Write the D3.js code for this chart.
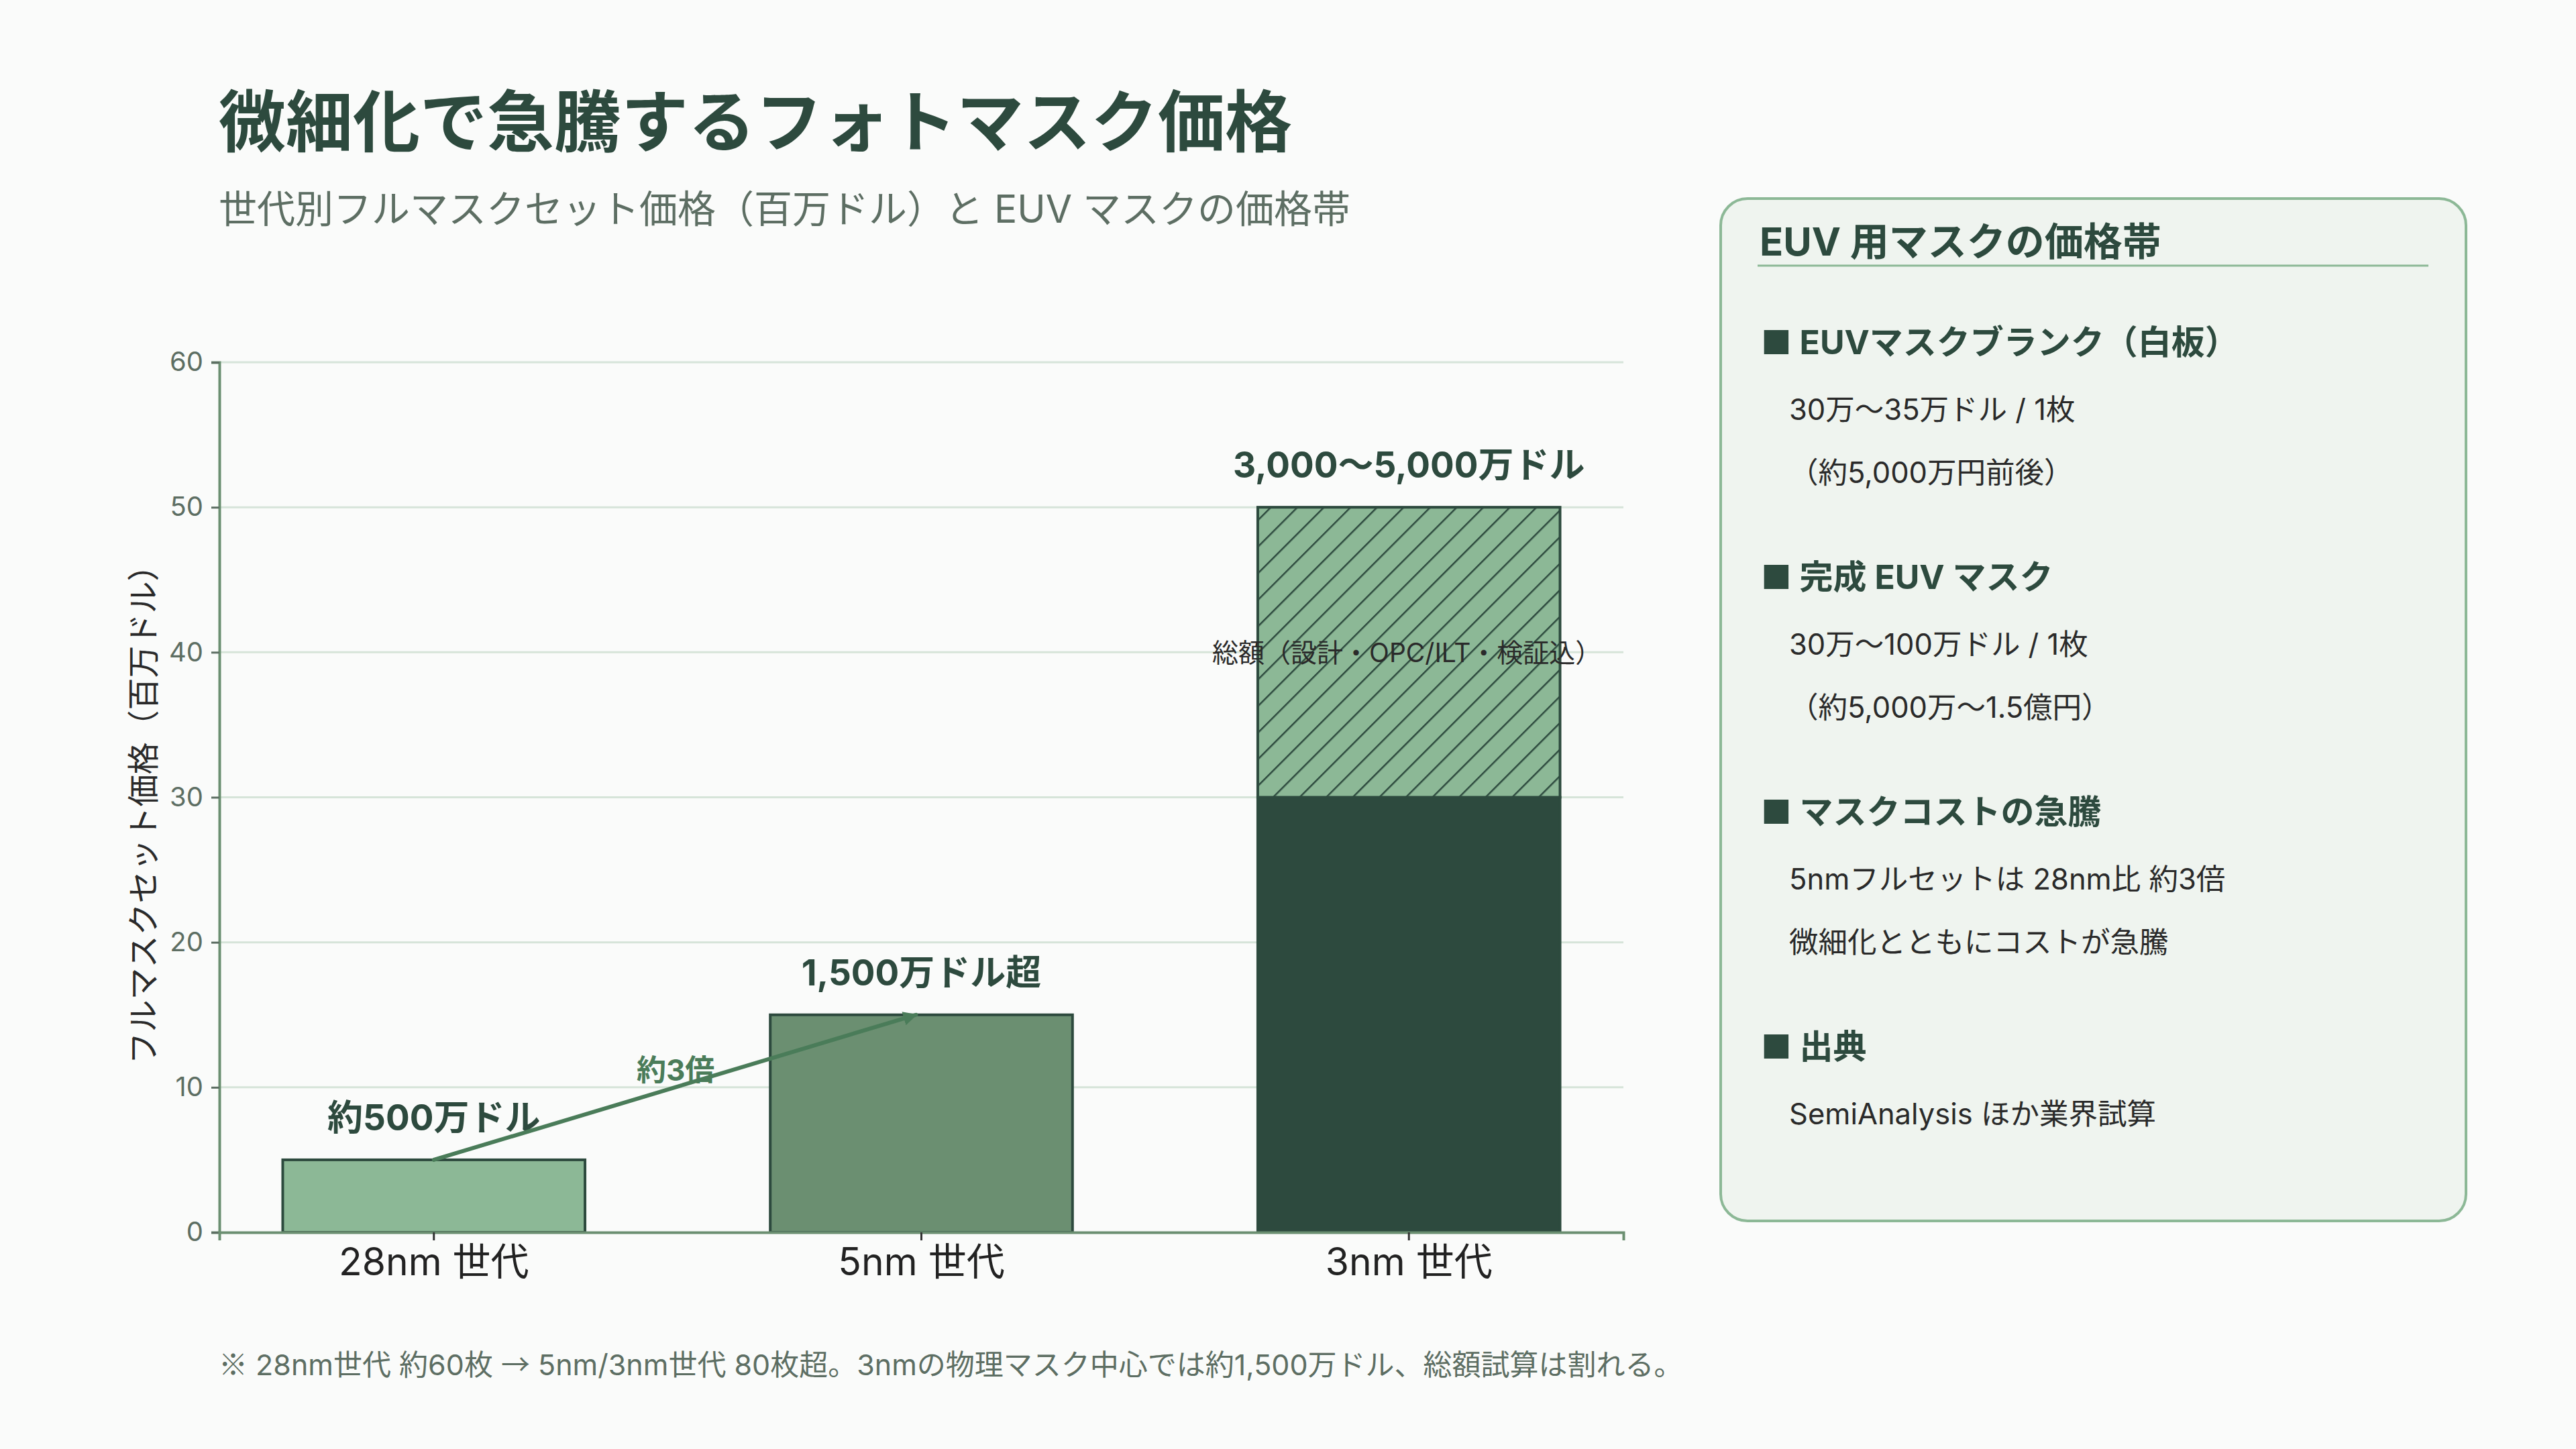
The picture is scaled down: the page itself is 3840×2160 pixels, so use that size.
<html lang="ja">
  <head>
    <meta charset="utf-8">
    <title>フォトマスク価格</title>
    <script src="https://cdn.jsdelivr.net/npm/d3@7"></script>
    <style>
      body { margin: 0; background: #fafbfa; }
      text { font-family: Inter, "Noto Sans CJK JP", sans-serif; }
    </style>
  </head>
  <body>
    <script type="text/javascript">
      var w = 3840;
      var h = 2160;
      var margin = {top: 540, right: 1420, bottom: 323, left: 327};
      var innerWidth = w - margin.left - margin.right;
      var innerHeight = h - margin.top - margin.bottom;

      // data
      var categories = ["28nm 世代", "5nm 世代", "3nm 世代"];
      var baseValues = [5, 15, 30];
      var totalValues = [null, null, 50];
      var valueLabels = ["約500万ドル", "1,500万ドル超", "3,000〜5,000万ドル"];
      var barColors = ["#8cb896", "#6b8f71", "#2d4a3e"];
      var yTicks = [0, 10, 20, 30, 40, 50, 60];
      var rangeNote = "総額（設計・OPC/ILT・検証込）";
      var rangeNoteValue = 40;
      var arrowLabel = "約3倍";

      var panelTitle = "EUV 用マスクの価格帯";
      var panelHeads = ["EUVマスクブランク（白板）", "完成 EUV マスク", "マスクコストの急騰", "出典"];
      var panelLines = [
        ["30万〜35万ドル / 1枚", "（約5,000万円前後）"],
        ["30万〜100万ドル / 1枚", "（約5,000万〜1.5億円）"],
        ["5nmフルセットは 28nm比 約3倍", "微細化とともにコストが急騰"],
        ["SemiAnalysis ほか業界試算"]
      ];
      // footnote pieces: [text, cjk symbol?]
      var footParts = [
        ["※", true], [" 28nm世代 約60枚 ", false], ["→", true],
        [" 5nm/3nm世代 80枚超。3nmの物理マスク中心では約1,500万ドル、総額試算は割れる。", false]
      ];

      var dark = "#2d4a3e";
      var cjk = "'Noto Sans CJK JP', sans-serif";

      var svg = d3.select("body")
          .append("svg")
          .attr("width", w)
          .attr("height", h);

      svg.append("rect").attr("width", w).attr("height", h).attr("fill", "#fafbfa");

      // hatch pattern
      var defs = svg.append("defs");
      var pat = defs.append("pattern")
          .attr("id", "hatch")
          .attr("patternUnits", "userSpaceOnUse")
          .attr("width", 28)
          .attr("height", 28)
          .attr("patternTransform", "rotate(45)");
      pat.append("rect").attr("width", 28).attr("height", 28).attr("fill", "#8cb896");
      pat.append("line")
          .attr("x1", 0).attr("y1", 0).attr("x2", 0).attr("y2", 28)
          .attr("stroke", dark).attr("stroke-width", 5);

      defs.append("marker")
          .attr("id", "arrowhead")
          .attr("viewBox", "0 0 10 10")
          .attr("refX", 9).attr("refY", 5)
          .attr("markerWidth", 3.5).attr("markerHeight", 3.5)
          .attr("orient", "auto")
          .append("path")
          .attr("d", "M0,0 L10,5 L0,10 z")
          .attr("fill", "#4a7c59");

      // titles
      svg.append("text")
          .attr("x", 326).attr("y", 218)
          .attr("font-size", 100).attr("font-weight", 700)
          .attr("fill", dark)
          .text("微細化で急騰するフォトマスク価格");
      svg.append("text")
          .attr("x", 326).attr("y", 332)
          .attr("font-size", 57)
          .attr("fill", "#5d6e63")
          .text("世代別フルマスクセット価格（百万ドル）と EUV マスクの価格帯");

      var xScale = d3.scaleBand()
          .domain(categories)
          .range([0, innerWidth])
          .paddingInner(0.38)
          .paddingOuter(0.13);
      var yScale = d3.scaleLinear()
          .domain([0, 60])
          .range([innerHeight, 0]);

      var g = svg.append("g")
          .attr("transform", "translate(" + margin.left + "," + margin.top + ")");

      // gridlines
      g.selectAll(".grid")
          .data(yTicks.slice(1))
          .enter()
          .append("line")
          .attr("x1", 0).attr("x2", innerWidth)
          .attr("y1", d => yScale(d)).attr("y2", d => yScale(d))
          .attr("stroke", "#d6e4d9").attr("stroke-width", 3);

      // base bars
      g.selectAll(".bar")
          .data(categories)
          .enter()
          .append("rect")
          .attr("x", d => xScale(d))
          .attr("width", xScale.bandwidth())
          .attr("y", (d, i) => yScale(baseValues[i]))
          .attr("height", (d, i) => innerHeight - yScale(baseValues[i]))
          .attr("fill", (d, i) => barColors[i])
          .attr("stroke", dark)
          .attr("stroke-width", 4);

      // hatched total range
      var ranged = categories.map((c, i) => ({c: c, lo: baseValues[i], hi: totalValues[i]}))
          .filter(d => d.hi != null);
      g.selectAll(".range")
          .data(ranged)
          .enter()
          .append("rect")
          .attr("x", d => xScale(d.c))
          .attr("width", xScale.bandwidth())
          .attr("y", d => yScale(d.hi))
          .attr("height", d => yScale(d.lo) - yScale(d.hi))
          .attr("fill", "url(#hatch)")
          .attr("stroke", dark)
          .attr("stroke-width", 4);

      // value labels
      g.selectAll(".vlabel")
          .data(categories)
          .enter()
          .append("text")
          .attr("x", d => xScale(d) + xScale.bandwidth() / 2)
          .attr("y", (d, i) => yScale(totalValues[i] != null ? totalValues[i] : baseValues[i]) - 63)
          .attr("text-anchor", "middle")
          .attr("dominant-baseline", "central")
          .attr("font-size", 53).attr("font-weight", 700)
          .attr("fill", dark)
          .text((d, i) => valueLabels[i]);

      // note on range
      g.append("text")
          .attr("x", xScale(categories[2]) + xScale.bandwidth() / 2 - 3)
          .attr("y", yScale(rangeNoteValue))
          .attr("text-anchor", "middle")
          .attr("dominant-baseline", "central")
          .attr("font-size", 39)
          .attr("fill", "#2a2a2a")
          .text(rangeNote);

      // arrow between first two bars
      var ax1 = xScale(categories[0]) + xScale.bandwidth() / 2;
      var ay1 = yScale(baseValues[0]);
      var ax2 = xScale(categories[1]) + xScale.bandwidth() / 2 - 8;
      var ay2 = yScale(baseValues[1]);
      g.append("line")
          .attr("x1", ax1).attr("y1", ay1)
          .attr("x2", ax2).attr("y2", ay2)
          .attr("stroke", "#4a7c59").attr("stroke-width", 6)
          .attr("stroke-linecap", "round")
          .attr("marker-end", "url(#arrowhead)");
      g.append("text")
          .attr("x", (ax1 + ax2) / 2 + 1)
          .attr("y", (ay1 + ay2) / 2 - 26)
          .attr("text-anchor", "middle")
          .attr("dominant-baseline", "central")
          .attr("font-size", 44).attr("font-weight", 700)
          .attr("fill", "#4a7c59")
          .text(arrowLabel);

      // axes
      var yAxis = d3.axisLeft(yScale).tickValues(yTicks).tickSize(12).tickPadding(12);
      var yg = g.append("g").call(yAxis);
      yg.select(".domain").attr("stroke", "#6b8f71").attr("stroke-width", 4);
      yg.selectAll(".tick line").attr("stroke", "#5d6e63").attr("stroke-width", 3);
      yg.selectAll(".tick text")
          .attr("font-size", 40)
          .attr("fill", "#5d6e63")
          .style("font-family", "Inter, 'Noto Sans CJK JP', sans-serif");

      var xAxis = d3.axisBottom(xScale).tickSize(12).tickPadding(12);
      var xg = g.append("g")
          .attr("transform", "translate(0," + innerHeight + ")")
          .call(xAxis);
      xg.select(".domain").attr("stroke", "#6b8f71").attr("stroke-width", 4);
      xg.selectAll(".tick line").attr("stroke", "#333").attr("stroke-width", 3);
      xg.selectAll(".tick text")
          .attr("font-size", 57)
          .attr("fill", "#222")
          .style("font-family", "Inter, 'Noto Sans CJK JP', sans-serif");

      svg.append("text")
          .attr("transform", "translate(213," + (margin.top + innerHeight / 2 + 14) + ") rotate(-90)")
          .attr("text-anchor", "middle")
          .attr("dominant-baseline", "central")
          .attr("font-size", 48)
          .attr("fill", "#2a2a2a")
          .text("フルマスクセット価格（百万ドル）");

      // footnote
      var foot = svg.append("text")
          .attr("x", 326).attr("y", 2050)
          .attr("font-size", 43)
          .attr("fill", "#5d6e63");
      foot.selectAll("tspan")
          .data(footParts)
          .enter()
          .append("tspan")
          .style("font-family", d => d[1] ? cjk : null)
          .text(d => d[0]);

      // side panel
      var panel = svg.append("g").attr("transform", "translate(2565,296)");
      panel.append("rect")
          .attr("width", 1111).attr("height", 1524)
          .attr("rx", 40).attr("ry", 40)
          .attr("fill", "#eff4ef")
          .attr("stroke", "#8cb896").attr("stroke-width", 4);
      panel.append("text")
          .attr("x", 58).attr("y", 64)
          .attr("dominant-baseline", "central")
          .attr("font-size", 58).attr("font-weight", 700)
          .attr("fill", dark)
          .text(panelTitle);
      panel.append("line")
          .attr("x1", 55).attr("x2", 1055)
          .attr("y1", 100).attr("y2", 100)
          .attr("stroke", "#8cb896").attr("stroke-width", 3);

      var sec = panel.selectAll(".sec")
          .data(panelHeads)
          .enter()
          .append("g")
          .attr("transform", (d, i) => "translate(0," + (214 + i * 350) + ")");
      sec.append("text")
          .attr("x", 60)
          .attr("dominant-baseline", "central")
          .attr("font-size", 50).attr("font-weight", 700)
          .attr("fill", dark)
          .text(d => "■ " + d);
      sec.selectAll(".ln")
          .data((d, i) => panelLines[i])
          .enter()
          .append("text")
          .attr("x", 102)
          .attr("y", (d, j) => 100 + j * 94)
          .attr("dominant-baseline", "central")
          .attr("font-size", 43.5)
          .attr("fill", "#2a2a2a")
          .text(d => d);
    </script>
  </body>
</html>
